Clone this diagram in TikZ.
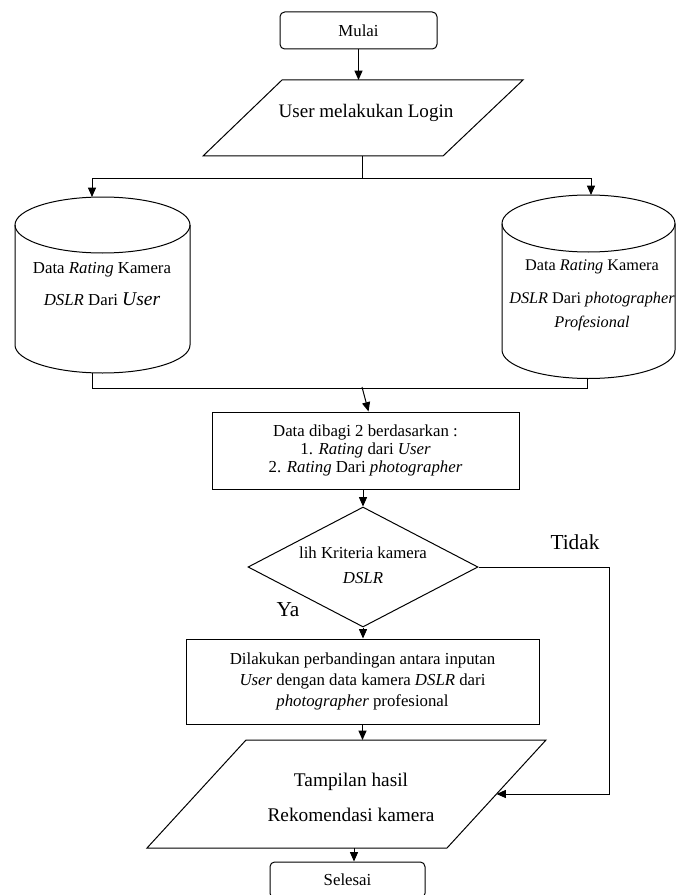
\documentclass[tikz,border=0pt]{standalone}
\usepackage{fontspec}
\setmainfont{Liberation Serif}
\usetikzlibrary{arrows.meta,shapes.geometric,calc}
\begin{document}
\begin{tikzpicture}[x=0.75pt,y=-0.75pt, line width=0.75pt,
  arr/.style={-{Triangle[length=7pt,width=6pt]}},
  rbox/.style={draw, rounded corners=3.5pt, inner sep=0pt},
  pbox/.style={draw, inner sep=0pt, align=center},
  fb/.style={font=\fontsize{12.6}{15}\selectfont},
  big/.style={font=\fontsize{16}{18}\selectfont}
]
\useasboundingbox (0,0) rectangle (676,895);
\clip (0,0) rectangle (676,895);

% Mulai
\node[rbox, fb, minimum width=117.75pt, minimum height=27.75pt] (mulai) at (358.5,30.5) {Mulai};

% Login parallelogram
\draw (282,80) -- (523,80) -- (443,156) -- (203,156) -- cycle;
\node[font=\fontsize{14.3}{17}\selectfont] (login) at (366,113) {User melakukan Login};
\coordinate (loginN) at (358.5,80);
\coordinate (loginS) at (362,156);
\draw[arr] (mulai.south) -- (loginN);

% split to databases
\coordinate (split) at (362,178);
\coordinate (cylLtop) at (92,197);
\coordinate (cylRtop) at (591,195);
\draw (loginS) -- (split);
\draw[arr] (split) -| (cylLtop);
\draw[arr] (split) -| (cylRtop);

% left cylinder
\draw (102.5,225) ellipse [x radius=65.625pt, y radius=21pt];
\draw (15,225) -- (15,345) arc[start angle=180, end angle=360, x radius=65.625pt, y radius=21pt] -- (190,225);
\node[fb, align=center] (cylLtxt) at (102,284) {Data \textit{Rating} Kamera\\[9pt] \textit{DSLR} Dari {\fontsize{14.6}{15}\selectfont\textit{User}}};

% right cylinder
\draw (588.5,223.5) ellipse [x radius=64.875pt, y radius=21.375pt];
\draw (502,223.5) -- (502,350) arc[start angle=180, end angle=360, x radius=64.875pt, y radius=21.375pt] -- (675,223.5);
\node[font=\fontsize{12.2}{15}\selectfont, align=center, inner xsep=0pt] (cylRtxt) at (592,295) {Data \textit{Rating} Kamera\\[9.75pt] \textit{DSLR} Dari \textit{photographer}\\[3pt] \textit{Profesional}};

% merge
\coordinate (cylLbot) at (92,373);
\coordinate (cylRbot) at (587,378);
\draw (cylLbot) -- ++(0,15) -| (cylRbot);
\coordinate (merge) at (362,387);

% data box
\node[pbox, minimum width=230.25pt, minimum height=57.75pt, font=\fontsize{12.6}{13.5}\selectfont] (data) at (365.5,450.5)
  {Data dibagi 2 berdasarkan :\\ 1. \textit{Rating} dari \textit{User}\\ 2. \textit{Rating} Dari \textit{photographer}};
\draw[arr] (merge) -- ($(data.north)+(3,0)$);

% decision
\node[diamond, draw, minimum width=172.5pt, minimum height=90pt, aspect=1.917, inner sep=0pt, font=\fontsize{12.6}{15}\selectfont] (dia) at (363,567)
  {\raisebox{3.4pt}{\begin{tabular}{@{}c@{}}lih Kriteria kamera\\[3.75pt]\textit{DSLR}\end{tabular}}};
\draw[arr] (data.south -| dia.north) -- (dia.north);

\node[big] (tidak) at (575,542) {Tidak};
\node[big] (ya) at (288,610) {Ya};

% process box
\node[pbox, minimum width=264.75pt, minimum height=63.75pt, font=\fontsize{12.6}{15.75}\selectfont] (dil) at (362.5,681.5)
  {Dilakukan perbandingan antara inputan\\ \textit{User} dengan data kamera \textit{DSLR} dari\\ \textit{photographer} profesional};
\draw[arr] (dia.south) -- (dia.south |- dil.north);

% output parallelogram
\draw (246,740) -- (546,740) -- (447,848) -- (147,848) -- cycle;
\node[font=\fontsize{14.5}{26.25}\selectfont, align=center] (out) at (351,797.5) {Tampilan hasil\\Rekomendasi kamera};
\coordinate (outN) at (362.5,740);
\coordinate (outE) at (496.5,794);
\coordinate (outS) at (354,848);
\draw[arr] (dil.south) -- (dil.south |- outN);
\coordinate (tidakLow) at (609,794);
\draw[arr] (dia.east) -| (tidakLow) -- (outE);

% Selesai
\node[rbox, fb, minimum width=116.25pt, minimum height=27pt] (selesai) at (347.5,880) {Selesai};
\draw[arr] (outS) -- (outS |- selesai.north);
\end{tikzpicture}
\end{document}
